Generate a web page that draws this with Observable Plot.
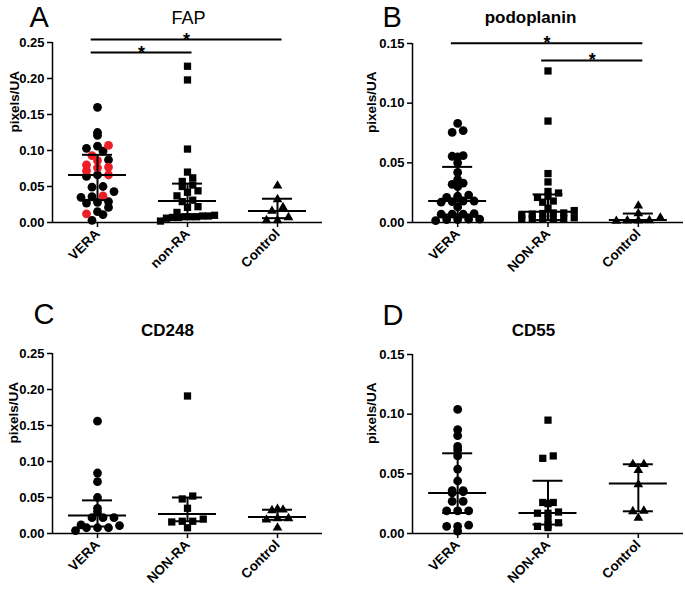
<!DOCTYPE html>
<html><head><meta charset="utf-8">
<script src="https://cdn.jsdelivr.net/npm/d3@7"></script>
<script src="https://cdn.jsdelivr.net/npm/@observablehq/plot@0.6"></script>
<style>
body{margin:0;background:#fff;}
#wrap{position:relative;width:685px;height:590px;overflow:hidden;background:#fff;}
#wrap svg{position:absolute;}
</style></head><body><div id="wrap"></div>
<script>
// ---------- DATA ----------
const groupsA = ["VERA", "non-RA", "Control"];
const groupsB = ["VERA", "NON-RA", "Control"];

// Panel A: FAP
const fapVeraMain = [0.160, 0.125, 0.121, 0.106, 0.103, 0.099, 0.087, 0.066, 0.064, 0.050, 0.049, 0.043, 0.036, 0.035, 0.029, 0.028, 0.027, 0.021, 0.015, 0.011, 0.003];
const fapVeraHighlight = [0.107, 0.093, 0.086, 0.080, 0.077, 0.072, 0.076, 0.066, 0.037, 0.012];
const fapNonRA = [0.217, 0.198, 0.102, 0.070, 0.062, 0.057, 0.052, 0.050, 0.044, 0.042, 0.037, 0.031, 0.029, 0.022, 0.021, 0.014, 0.010, 0.009, 0.008, 0.007, 0.007, 0.006, 0.008, 0.009, 0.008, 0.002];
const fapControl = [0.051, 0.032, 0.021, 0.016, 0.007, 0.003, 0.003];
const fapMedian = [0.066, 0.030, 0.016];
const fapQ1 = [0.031, 0.006, 0.006];
const fapQ3 = [0.094, 0.054, 0.033];
const fapSig = [{from: "VERA", to: "non-RA", y: 0.236}, {from: "VERA", to: "Control", y: 0.254}];

// Panel B: podoplanin
const podoVera = [0.083, 0.077, 0.0755, 0.056, 0.0555, 0.055, 0.050, 0.042, 0.036, 0.033, 0.032, 0.030, 0.023, 0.022, 0.021, 0.018, 0.018, 0.0175, 0.017, 0.013, 0.0075, 0.007, 0.007, 0.007, 0.0028, 0.0025, 0.0015, 0.0025, 0.0028];
const podoNonRA = [0.127, 0.085, 0.041, 0.034, 0.026, 0.0247, 0.022, 0.021, 0.018, 0.017, 0.012, 0.010, 0.008, 0.008, 0.0075, 0.007, 0.006, 0.003, 0.003, 0.0035, 0.003, 0.003, 0.004];
const podoControl = [0.014, 0.0075, 0.004, 0.0015, 0.0012, 0.0015, 0.0017];
const podoMedian = [0.018, 0.009, 0.002];
const podoQ1 = [0.0067, 0.002, 0.001];
const podoQ3 = [0.0466, 0.0235, 0.0075];
const podoSig = [{from: "NON-RA", to: "Control", y: 0.1358}, {from: "VERA", to: "Control", y: 0.1503}];

// Panel C: CD248
const cd248Vera = [0.156, 0.084, 0.072, 0.050, 0.035, 0.030, 0.022, 0.022, 0.022, 0.012, 0.011, 0.008, 0.008, 0.008, 0.004];
const cd248NonRA = [0.191, 0.052, 0.048, 0.035, 0.017, 0.016, 0.017, 0.020, 0.008];
const cd248Control = [0.034, 0.032, 0.033, 0.021, 0.021, 0.019, 0.008];
const cd248Median = [0.025, 0.027, 0.023];
const cd248Q1 = [0.0097, 0.017, 0.019];
const cd248Q3 = [0.046, 0.050, 0.033];

// Panel D: CD55
const cd55Vera = [0.104, 0.087, 0.082, 0.073, 0.070, 0.065, 0.054, 0.044, 0.036, 0.035, 0.034, 0.036, 0.027, 0.027, 0.019, 0.019, 0.019, 0.006, 0.002, 0.006, 0.007];
const cd55NonRA = [0.095, 0.065, 0.063, 0.026, 0.025, 0.026, 0.018, 0.017, 0.017, 0.012, 0.009, 0.007, 0.005, 0.006];
const cd55Control = [0.058, 0.058, 0.053, 0.041, 0.019, 0.0185, 0.013];
const cd55Median = [0.034, 0.0172, 0.042];
const cd55Q1 = [0.0172, 0.0075, 0.0186];
const cd55Q3 = [0.0672, 0.0442, 0.058];

const yTicks25 = [0, 0.05, 0.10, 0.15, 0.20, 0.25];
const yTicks15 = [0, 0.05, 0.10, 0.15];

// ---------- LAYOUT ----------
const panels = [
  {letter: "A", title: "FAP", titleWeight: "normal", groups: groupsA,
   series: [[{sub: "main", v: fapVeraMain}, {sub: "hi", v: fapVeraHighlight}], [{sub: "main", v: fapNonRA}], [{sub: "main", v: fapControl}]],
   med: fapMedian, q1: fapQ1, q3: fapQ3, sig: fapSig, ymax: 0.25, ticks: yTicks25, binH: 8,
   left: 0, top: 0, width: 340, height: 290, ml: 52, mr: 18, mt: 42, mb: 68,
   letterX: 29, letterY: 26, titleX: 188, titleY: 23, labelX: 14},
  {letter: "B", title: "podoplanin", titleWeight: "bold", groups: groupsB,
   series: [[{sub: "main", v: podoVera}], [{sub: "main", v: podoNonRA}], [{sub: "main", v: podoControl}]],
   med: podoMedian, q1: podoQ1, q3: podoQ3, sig: podoSig, ymax: 0.15, ticks: yTicks15, binH: 6,
   left: 340, top: 0, width: 345, height: 290, ml: 72, mr: 2, mt: 43, mb: 68,
   letterX: 42, letterY: 26, titleX: 190, titleY: 22, labelX: 31},
  {letter: "C", title: "CD248", titleWeight: "bold", groups: groupsB,
   series: [[{sub: "main", v: cd248Vera}], [{sub: "main", v: cd248NonRA}], [{sub: "main", v: cd248Control}]],
   med: cd248Median, q1: cd248Q1, q3: cd248Q3, sig: [], ymax: 0.25, ticks: yTicks25, binH: 8,
   left: 0, top: 290, width: 340, height: 300, ml: 52, mr: 18, mt: 63, mb: 57,
   letterX: 33, letterY: 33, titleX: 167, titleY: 45, labelX: 13},
  {letter: "D", title: "CD55", titleWeight: "bold", groups: groupsB,
   series: [[{sub: "main", v: cd55Vera}], [{sub: "main", v: cd55NonRA}], [{sub: "main", v: cd55Control}]],
   med: cd55Median, q1: cd55Q1, q3: cd55Q3, sig: [], ymax: 0.15, ticks: yTicks15, binH: 6,
   left: 340, top: 290, width: 345, height: 300, ml: 72, mr: 2, mt: 64, mb: 57,
   letterX: 42, letterY: 34, titleX: 193, titleY: 45, labelX: 31}
];

const symbols = ["circle", "square", "triangle"];
const symbolR = [4.4, 4.1, 3.6];
const symbolGap = [11, 10.5, 11];

// column-scatter layout: values falling in the same pixel band form a row, spread symmetrically
function rowScatter(vals, pxY, gap, binH, maxHalf) {
  const X = new Array(vals.length);
  const rows = d3.group(d3.range(vals.length), i => Math.floor(vals[i] * pxY / binH));
  for (const row of rows.values()) {
    row.sort((a, b) => vals[a] - vals[b]);
    const m = row.length;
    const sp = m > 1 ? Math.min(gap, 2 * maxHalf / (m - 1)) : 0;
    row.forEach((i, j) => { X[i] = (j - (m - 1) / 2) * sp; });
  }
  return X;
}

const wrap = document.getElementById("wrap");
const font = "'Liberation Sans', Arial, Helvetica, sans-serif";

for (const P of panels) {
  const innerW = P.width - P.ml - P.mr, innerH = P.height - P.mt - P.mb;
  const pxX = innerW / 3, pxY = innerH / P.ymax;
  const points = [];
  P.series.forEach((subsets, gi) => {
    const all = subsets.flatMap(s => s.v.map(v => ({v, sub: s.sub})));
    const off = rowScatter(all.map(d => d.v), pxY, symbolGap[gi], P.binH, 27);
    all.forEach((d, k) => points.push({gi, g: P.groups[gi], sub: d.sub, v: d.v, x: gi + off[k] / pxX}));
  });
  const stats = P.groups.map((g, i) => ({i, med: P.med[i], q1: P.q1[i], q3: P.q3[i]}));
  const medHalf = 29 / pxX, capHalf = 15 / pxX;
  const sig = P.sig.map(s => ({x1: P.groups.indexOf(s.from) - 0.07, x2: P.groups.indexOf(s.to) + 0.05, y: s.y}));

  const dotMarks = P.groups.map((g, gi) => Plot.dot(points.filter(d => d.gi === gi), {
    x: "x", y: "v", symbol: symbols[gi], r: symbolR[gi], fill: "sub", stroke: "none"
  }));

  const chart = Plot.plot({
    width: P.width, height: P.height,
    marginLeft: P.ml, marginRight: P.mr, marginTop: P.mt, marginBottom: P.mb,
    style: {fontFamily: font, fontSize: "13px", fontWeight: "bold", color: "#000", background: "transparent"},
    x: {domain: [-0.5, 2.5], axis: null},
    y: {domain: [0, P.ymax], axis: null},
    color: {domain: ["main", "hi"], range: ["#000000", "#ee1c24"]},
    marks: [
      Plot.axisY({ticks: P.ticks, tickFormat: d3.format(".2f"), tickSize: 5, tickPadding: 3, strokeWidth: 1.5, label: null, fontSize: 13, fontWeight: "bold"}),
      Plot.axisX({ticks: [0, 1, 2], tickFormat: i => P.groups[i], tickSize: 5, tickRotate: -45, tickPadding: 4, strokeWidth: 1.5, label: null, fontSize: 13.5, fontWeight: "bold"}),
      ...dotMarks,
      Plot.ruleX([-0.5], {strokeWidth: 1.5}),
      Plot.ruleY([0], {strokeWidth: 1.5}),
      Plot.ruleY(stats, {y: "med", x1: d => d.i - medHalf, x2: d => d.i + medHalf, strokeWidth: 2}),
      Plot.ruleY(stats, {y: "q1", x1: d => d.i - capHalf, x2: d => d.i + capHalf, strokeWidth: 2}),
      Plot.ruleY(stats, {y: "q3", x1: d => d.i - capHalf, x2: d => d.i + capHalf, strokeWidth: 2}),
      Plot.ruleX(stats, {x: "i", y1: "q1", y2: "q3", strokeWidth: 2}),
      Plot.ruleY(sig, {y: "y", x1: "x1", x2: "x2", strokeWidth: 2, clip: false}),
      Plot.text(sig, {x: d => (d.x1 + d.x2) / 2, y: "y", text: () => "*", fontSize: 18, fontWeight: "bold", lineAnchor: "bottom", dy: 6}),
      Plot.text(["pixels/UA"], {frameAnchor: "left", dx: P.labelX - P.ml, rotate: -90, fontSize: 13.5, fontWeight: "bold"}),
      Plot.text([P.title], {frameAnchor: "top-left", dx: P.titleX - P.ml, dy: P.titleY - P.mt, lineAnchor: "bottom", textAnchor: "middle", fontSize: P.titleWeight === "bold" ? 17 : 18, fontWeight: P.titleWeight}),
      Plot.text([P.letter], {frameAnchor: "top-left", dx: P.letterX - P.ml, dy: P.letterY - P.mt, lineAnchor: "bottom", textAnchor: "start", fontSize: 29, fontWeight: "normal"})
    ]
  });
  chart.style.left = P.left + "px";
  chart.style.top = P.top + "px";
  wrap.appendChild(chart);
}
</script>
</body></html>
